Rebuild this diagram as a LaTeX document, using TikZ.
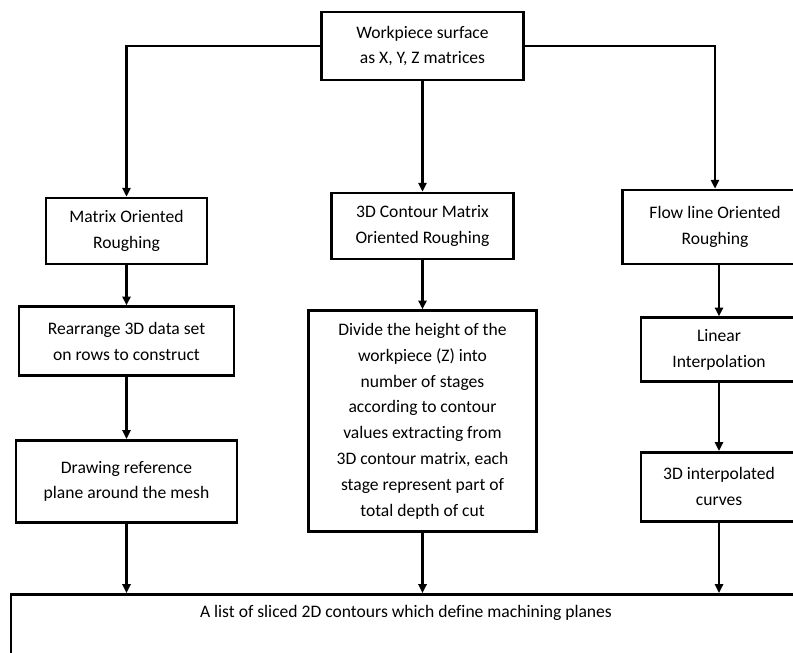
\documentclass[tikz,border=0pt]{standalone}
\usepackage{fontspec}
\setmainfont{Carlito}[Ligatures=NoCommon]
\usetikzlibrary{positioning,arrows.meta}
\begin{document}
\begin{tikzpicture}[box/.style={draw, line width=1.5pt, align=center, font=\fontsize{10}{14.7}\selectfont}, arr/.style={line width=1.3pt, -{Triangle[length=5pt,width=4.6pt]}}]
            \clip (0,0) rectangle (15.86,-13.04);
            \node[box, minimum width=4.04cm, minimum height=1.36cm] (surface) at (8.45,-0.92) {Workpiece surface\\as X, Y, Z matrices};
            \node[box, minimum width=3.22cm, minimum height=1.32cm] (matrix) at (2.53,-4.62) {Matrix Oriented\\Roughing};
            \node[box, minimum width=3.64cm, minimum height=1.32cm] (contour) at (8.45,-4.52) {3D Contour Matrix\\Oriented Roughing};
            \node[box, minimum width=3.7cm, minimum height=1.48cm] (flow) at (14.3,-4.54) {Flow line Oriented\\Roughing};
            \node[box, below=0.8cm of matrix, minimum width=4.3cm, minimum height=1.38cm] (rearrange) {Rearrange 3D data set\\on rows to construct};
            \node[box, below=1.24cm of rearrange, minimum width=4.42cm, minimum height=1.64cm] (refplane) {Drawing reference\\plane around the mesh};
            \node[box, below=0.98cm of contour, minimum width=4.56cm, minimum height=4.42cm] (divide) {Divide the height of the\\workpiece (Z) into\\number of stages\\according to contour\\values extracting from\\3D contour matrix, each\\stage represent part of\\total depth of cut};
            \node[box, below=1.02cm of flow, xshift=0.08cm, minimum width=3.12cm, minimum height=1.28cm] (linear) {Linear\\Interpolation};
            \node[box, below=1.36cm of linear, minimum width=3.12cm, minimum height=1.38cm] (curves) {3D interpolated\\curves};
            \node[box, anchor=north, minimum width=15.8cm, inner ysep=0.22cm, text depth=1.6cm] (planes) at (8.12,-11.86) {A list of sliced 2D contours which define machining planes};
            \draw[arr] (surface.west) -| (matrix);
            \draw[arr] (surface) -- (contour);
            \draw[arr] (surface.east) -| (flow);
            \draw[arr] (matrix) -- (rearrange);
            \draw[arr] (rearrange) -- (refplane);
            \draw[arr] (contour) -- (divide);
            \draw[arr] (flow.south -| linear) -- (linear);
            \draw[arr] (linear) -- (curves);
            \draw[arr] (refplane) -- (refplane |- planes.north);
            \draw[arr] (divide) -- (divide |- planes.north);
            \draw[arr] (curves) -- (curves |- planes.north);
        \end{tikzpicture}
\end{document}
